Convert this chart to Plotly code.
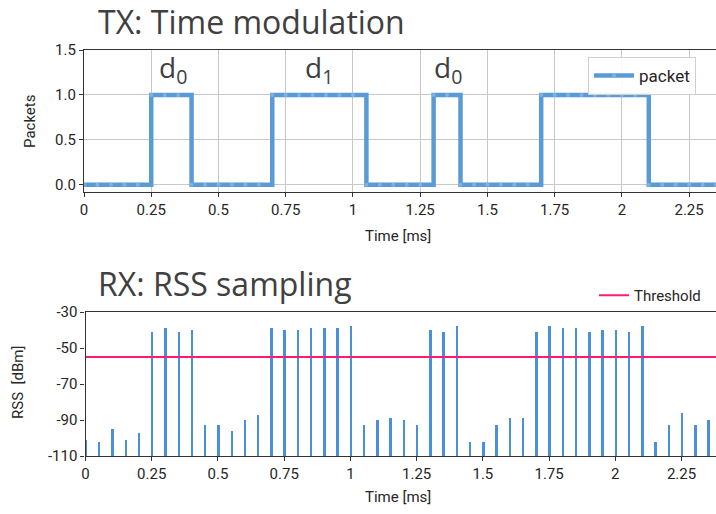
import plotly.graph_objects as go

time_ms = [0.0, 0.05, 0.1, 0.15, 0.2, 0.25, 0.3, 0.35, 0.4, 0.45, 0.5, 0.55,
           0.6, 0.65, 0.7, 0.75, 0.8, 0.85, 0.9, 0.95, 1.0, 1.05, 1.1, 1.15,
           1.2, 1.25, 1.3, 1.35, 1.4, 1.45, 1.5, 1.55, 1.6, 1.65, 1.7, 1.75,
           1.8, 1.85, 1.9, 1.95, 2.0, 2.05, 2.1, 2.15, 2.2, 2.25, 2.3, 2.35]
packet = [0, 0, 0, 0, 0, 1, 1, 1, 0, 0, 0, 0, 0, 0, 1, 1, 1, 1, 1, 1, 1, 0, 0, 0,
          0, 0, 1, 1, 0, 0, 0, 0, 0, 0, 1, 1, 1, 1, 1, 1, 1, 1, 0, 0, 0, 0, 0, 0]
rss_dbm = [-101, -102, -95, -101, -97, -41, -39, -41, -40, -93, -93, -96,
           -90, -87, -39, -40, -40, -39, -39, -39, -38, -93, -90, -89,
           -90, -93, -40, -41, -38, -102, -102, -93, -89, -89, -41, -38,
           -39, -39, -41, -40, -40, -41, -38, -102, -93, -86, -93, -90]
threshold_dbm = -55
rss_floor = -110
symbol_labels = ["d<sub>0</sub>", "d<sub>1</sub>", "d<sub>0</sub>"]
symbol_times = [0.33, 0.875, 1.355]
x_ticks = [0, 0.25, 0.5, 0.75, 1, 1.25, 1.5, 1.75, 2, 2.25]
x_ticktext = ["0", "0.25", "0.5", "0.75", "1", "1.25", "1.5", "1.75", "2", "2.25"]
rss_ticks = [-110, -90, -70, -50, -30]
rss_ticktext = ["-110", "-90", "-70", "-50", "-30"]

W, H = 716, 514
def px(x): return x / W
def py(y): return 1 - y / H

BLUE = "#5b9bd5"
BAR = "#4a90d9"
PINK = "#ff1a75"
TXT = "#262626"
NARROW = "Liberation Sans Narrow, Roboto, Open Sans, sans-serif"
TICKFONT = dict(family=NARROW, size=15, color=TXT)

fig = go.Figure()

fig.add_trace(go.Scatter(
    x=time_ms, y=packet, mode="lines+markers", line=dict(color=BLUE, width=4.5, shape="hv"),
    marker=dict(size=4, color="#7fb2e3"), name="packet", xaxis="x", yaxis="y",
    legend="legend"))

fig.add_trace(go.Bar(
    x=time_ms, y=[v - rss_floor for v in rss_dbm], base=rss_floor, width=0.009,
    marker=dict(color=BAR, line=dict(width=0)), showlegend=False, xaxis="x2", yaxis="y2"))

fig.add_trace(go.Scatter(
    x=[0, 2.38], y=[threshold_dbm, threshold_dbm], mode="lines",
    line=dict(color=PINK, width=2), name="Threshold", xaxis="x2", yaxis="y2",
    legend="legend2"))

axcommon = dict(showline=True, linecolor="#333333", linewidth=1.2, mirror=True,
                ticks="outside", ticklen=4, tickcolor="#333333", tickfont=TICKFONT,
                zeroline=False, automargin=False)

fig.update_layout(
    width=W, height=H, margin=dict(l=0, r=0, t=0, b=0, autoexpand=False),
    plot_bgcolor="white", paper_bgcolor="white", bargap=0,
    xaxis=dict(domain=[px(84), 1], anchor="y", range=[0, 2.35],
               tickvals=x_ticks, ticktext=x_ticktext, showgrid=True,
               gridcolor="#c8c8c8", gridwidth=1, **axcommon),
    yaxis=dict(domain=[py(192), py(50)], anchor="x", range=[-0.08, 1.5],
               tickvals=[0, 0.5, 1.0, 1.5], ticktext=["0.0", "0.5", "1.0", "1.5"],
               showgrid=True, gridcolor="#c8c8c8", gridwidth=1, **axcommon),
    xaxis2=dict(domain=[px(85.5), 1], anchor="y2", range=[0, 2.38],
                tickvals=x_ticks, ticktext=x_ticktext, showgrid=False, **axcommon),
    yaxis2=dict(domain=[py(456), py(312)], anchor="x2", range=[-110, -30],
                tickvals=rss_ticks, ticktext=rss_ticktext, showgrid=False, **axcommon),
    legend=dict(x=px(588), y=py(57), xanchor="left", yanchor="top",
                bgcolor="rgba(255,255,255,0.9)", bordercolor="#d0d0d0", borderwidth=1,
                font=dict(family=NARROW, size=17, color=TXT), itemwidth=40),
    legend2=dict(x=px(594), y=py(279), xanchor="left", yanchor="top",
                 bgcolor="rgba(0,0,0,0)", borderwidth=0,
                 font=dict(family=NARROW, size=15, color=TXT), itemwidth=30),
    showlegend=True,
)

annotations = [
    dict(text="TX: Time modulation", x=px(96), y=py(22), xref="paper", yref="paper",
         xanchor="left", yanchor="middle", showarrow=False,
         font=dict(family="Open Sans, sans-serif", size=32, color="#404040")),
    dict(text="RX: RSS sampling", x=px(96), y=py(283), xref="paper", yref="paper",
         xanchor="left", yanchor="middle", showarrow=False,
         font=dict(family="Open Sans, sans-serif", size=32, color="#404040")),
    dict(text="Packets", x=px(30), y=py(121), xref="paper", yref="paper", textangle=-90,
         xanchor="center", yanchor="middle", showarrow=False,
         font=dict(family=NARROW, size=15, color=TXT)),
    dict(text="Time [ms]", x=px(398), y=py(236), xref="paper", yref="paper",
         xanchor="center", yanchor="middle", showarrow=False,
         font=dict(family=NARROW, size=15, color=TXT)),
    dict(text="RSS  [dBm]", x=px(18), y=py(383), xref="paper", yref="paper", textangle=-90,
         xanchor="center", yanchor="middle", showarrow=False,
         font=dict(family=NARROW, size=15, color=TXT)),
    dict(text="Time [ms]", x=px(398), y=py(497), xref="paper", yref="paper",
         xanchor="center", yanchor="middle", showarrow=False,
         font=dict(family=NARROW, size=15, color=TXT)),
]
for lbl, t in zip(symbol_labels, symbol_times):
    annotations.append(dict(text=lbl, x=t, y=1.03, xref="x", yref="y",
                            xanchor="center", yanchor="bottom", showarrow=False,
                            font=dict(family="Open Sans, sans-serif", size=28, color="#404040")))
fig.update_layout(annotations=annotations)

fig.write_html("out.html", config={"displayModeBar": False},
               post_script="document.body.style.margin='0px';")
